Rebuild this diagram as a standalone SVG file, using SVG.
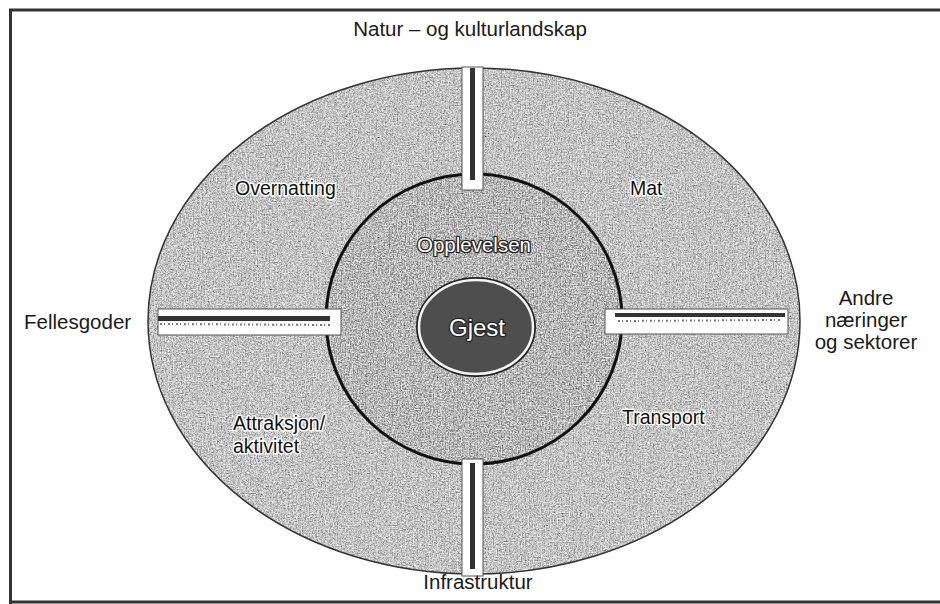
<svg xmlns="http://www.w3.org/2000/svg" width="940" height="604" viewBox="0 0 940 604">
<defs>
<filter id="grain" x="0" y="0" width="1" height="1">
<feTurbulence type="fractalNoise" baseFrequency="0.75" numOctaves="2" seed="3" result="n"/>
<feColorMatrix in="n" type="matrix" values="0.33 0.33 0.33 0 0  0.33 0.33 0.33 0 0  0.33 0.33 0.33 0 0  0 0 0 0 1" result="g"/>
<feComponentTransfer in="g" result="c">
<feFuncR type="linear" slope="2.2" intercept="-0.45"/>
<feFuncG type="linear" slope="2.2" intercept="-0.45"/>
<feFuncB type="linear" slope="2.2" intercept="-0.45"/>
</feComponentTransfer>
<feBlend in="SourceGraphic" in2="c" mode="overlay" result="b"/>
<feComposite in="b" in2="SourceGraphic" operator="in"/>
</filter>
<style>
.lbl{font-family:"Liberation Sans",Arial,sans-serif;font-size:20.5px;fill:#1a1a1a}
.ring{font-family:"Liberation Sans",Arial,sans-serif;font-size:19.5px;fill:#111;stroke:#fff;stroke-width:3px;paint-order:stroke;stroke-linejoin:round}
.wt{font-family:"Liberation Sans",Arial,sans-serif;fill:#fff;stroke:#222;stroke-width:2.5px;paint-order:stroke;stroke-linejoin:round}
.chan{fill:#fff;stroke:#555;stroke-width:1}
.bar{fill:#333}
.speck{stroke:#777;stroke-width:2;stroke-dasharray:2 2 1 3}
</style>
</defs>
<rect x="0" y="0" width="940" height="604" fill="#fff"/>
<g id="frame" fill="none" stroke="#333" stroke-width="3">
<path d="M10.5,604 V10 H940"/>
<path d="M10,602 H940"/>
</g>
<g id="outer">
<ellipse cx="474" cy="321" rx="326" ry="253" fill="#a6a6a6" filter="url(#grain)"/>
<ellipse cx="474" cy="321" rx="326" ry="253" fill="none" stroke="#333" stroke-width="1.5"/>
</g>
<g id="opplevelsen">
<ellipse cx="474" cy="319" rx="148" ry="145" fill="#919191" filter="url(#grain)"/>
<ellipse cx="474" cy="319" rx="148" ry="145" fill="none" stroke="#111" stroke-width="3"/>
<text class="wt" x="474" y="252" text-anchor="middle" font-size="20.5">Opplevelsen</text>
</g>
<g id="connectors">
<rect class="chan" x="462" y="67" width="21" height="123"/>
<rect class="bar" x="470" y="68" width="5" height="112"/>
<rect class="chan" x="462" y="459" width="21" height="117"/>
<rect class="bar" x="470" y="463" width="5" height="106"/>
<rect class="chan" x="158" y="309" width="183" height="26"/>
<rect class="bar" x="158" y="316" width="172" height="5"/>
<line class="speck" x1="160" y1="324" x2="330" y2="325"/>
<rect class="chan" x="605" y="309" width="183" height="25"/>
<rect class="bar" x="615" y="313" width="170" height="4"/>
<line class="speck" x1="618" y1="321" x2="780" y2="320"/>
</g>
<g id="gjest">
<ellipse cx="476" cy="327" rx="60" ry="50" fill="#222"/>
<ellipse cx="476" cy="327" rx="57" ry="47" fill="#4e4e4e" stroke="#f4f4f4" stroke-width="2.5"/>
<text class="wt" x="477" y="336" text-anchor="middle" font-size="24">Gjest</text>
</g>
<g id="overnatting"><text class="ring" x="235" y="195">Overnatting</text></g>
<g id="mat"><text class="ring" x="630" y="195">Mat</text></g>
<g id="attraksjon"><text class="ring" x="233" y="430">Attraksjon/</text><text class="ring" x="233" y="453">aktivitet</text></g>
<g id="transport"><text class="ring" x="622" y="424">Transport</text></g>
<g id="natur"><text class="lbl" x="470" y="36" text-anchor="middle">Natur – og kulturlandskap</text></g>
<g id="fellesgoder"><text class="lbl" x="24" y="329">Fellesgoder</text></g>
<g id="andre"><text class="lbl" x="866" y="305" text-anchor="middle">Andre</text><text class="lbl" x="866" y="327" text-anchor="middle">næringer</text><text class="lbl" x="866" y="349" text-anchor="middle">og sektorer</text></g>
<g id="infrastruktur"><text class="lbl" x="478" y="589" text-anchor="middle">Infrastruktur</text></g>
</svg>
